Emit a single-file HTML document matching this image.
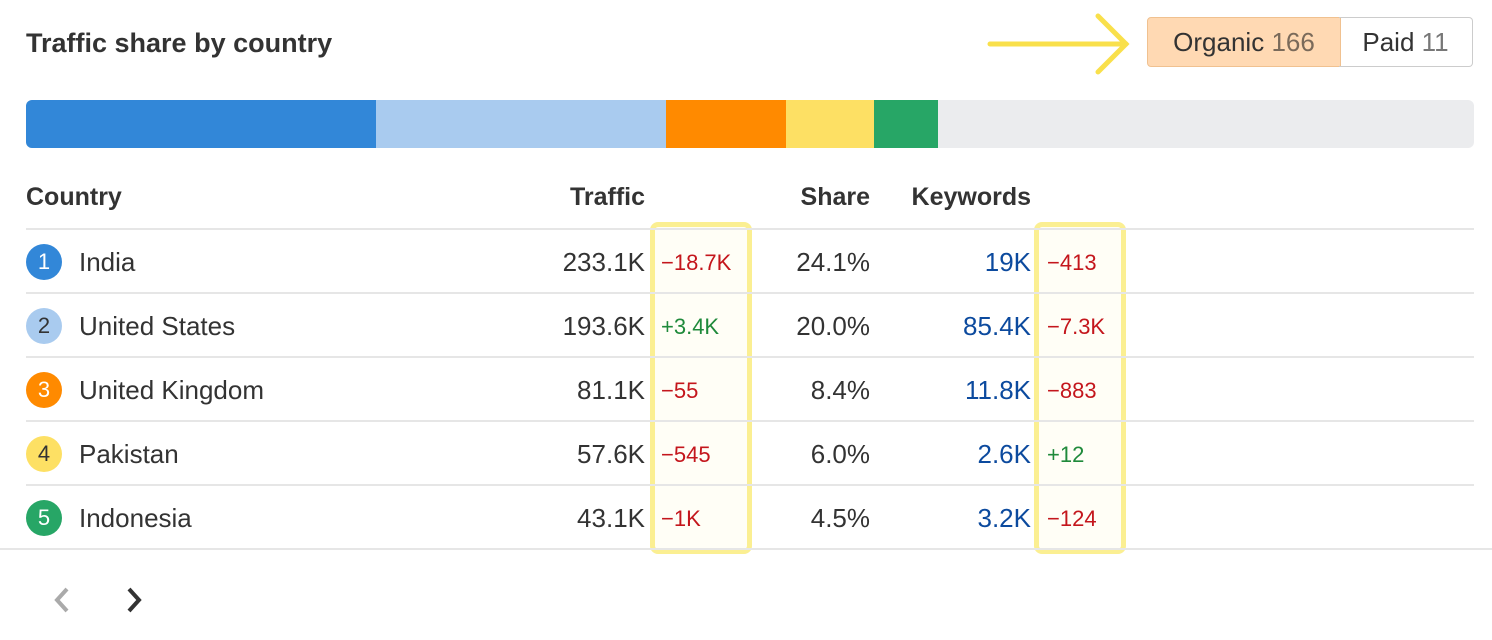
<!DOCTYPE html>
<html><head><meta charset="utf-8"><style>
body{margin:0;width:1492px;height:640px;background:#fff;font-family:"Liberation Sans",sans-serif;color:#333;position:relative;overflow:hidden}
.a{position:absolute;white-space:nowrap}
.t{font-size:26px;line-height:30px}
.r{text-align:right}
.c{font-size:22px;line-height:30px}
.h{font-size:25px;font-weight:bold;line-height:30px}
.red{color:#c4161c}.grn{color:#1f8a3b}.blu{color:#0c4a9e}
.line{position:absolute;left:26px;width:1448px;height:2px;background:#e6e6e6}
.circ{position:absolute;left:26px;width:36px;height:36px;border-radius:50%;color:#fff;font-size:22px;line-height:36px;text-align:center}
.ybox{position:absolute;top:222px;height:322px;border:5px solid #fbef92;border-radius:8px;background:rgba(255,252,230,0.35)}
</style></head><body>
<div class="a" style="left:26px;top:28px;font-size:27px;font-weight:bold;line-height:30px;color:#333">Traffic share by country</div>
<svg class="a" style="left:980px;top:10px" width="160" height="70"><g stroke="#f9e04b" stroke-width="5" stroke-linecap="round" fill="none"><line x1="10" y1="34" x2="146" y2="34"/><polyline points="118,6 146,34 118,62"/></g></svg>
<div class="a" style="left:1147px;top:17px;width:192px;height:48px;background:#ffd9b3;border:1px solid #f0c190;border-radius:4px 0 0 4px;font-size:26px;line-height:48px;text-align:center;color:#333">Organic <span style="color:#7a6a5a">166</span></div>
<div class="a" style="left:1339px;top:17px;width:133px;height:48px;border:1px solid #ccc;border-left:none;border-radius:0 4px 4px 0;font-size:26px;line-height:48px;text-align:center;color:#333">Paid <span style="color:#777">11</span></div>
<div class="a" style="left:26px;top:100px;width:1448px;height:48px;border-radius:6px;overflow:hidden;background:#ebecee">
<div class="a" style="left:0;top:0;width:350px;height:48px;background:#3287d8"></div>
<div class="a" style="left:350px;top:0;width:290px;height:48px;background:#a9cbef"></div>
<div class="a" style="left:640px;top:0;width:120px;height:48px;background:#ff8a00"></div>
<div class="a" style="left:760px;top:0;width:88px;height:48px;background:#fde064"></div>
<div class="a" style="left:848px;top:0;width:64px;height:48px;background:#27a666"></div>
</div>
<div class="a h" style="left:26px;top:182px">Country</div>
<div class="a r h" style="left:445px;width:200px;top:182px">Traffic</div>
<div class="a r h" style="left:670px;width:200px;top:182px">Share</div>
<div class="a r h" style="left:831px;width:200px;top:182px">Keywords</div>
<div class="ybox" style="left:650px;width:92px"></div>
<div class="ybox" style="left:1034px;width:82px"></div>
<div class="line" style="top:228px"></div>
<div class="line" style="top:292px"></div>
<div class="line" style="top:356px"></div>
<div class="line" style="top:420px"></div>
<div class="line" style="top:484px"></div>
<div class="line" style="top:548px;left:0;width:1492px"></div>

<div class="circ" style="top:244px;background:#3287d8">1</div>
<div class="circ" style="top:308px;background:#a9cbef;color:#333">2</div>
<div class="circ" style="top:372px;background:#ff8a00">3</div>
<div class="circ" style="top:436px;background:#fde064;color:#333">4</div>
<div class="circ" style="top:500px;background:#27a666">5</div>

<div class="a t" style="left:79px;top:247px">India</div>
<div class="a t" style="left:79px;top:311px">United States</div>
<div class="a t" style="left:79px;top:375px">United Kingdom</div>
<div class="a t" style="left:79px;top:439px">Pakistan</div>
<div class="a t" style="left:79px;top:503px">Indonesia</div>

<div class="a t r" style="left:445px;width:200px;top:247px">233.1K</div>
<div class="a t r" style="left:445px;width:200px;top:311px">193.6K</div>
<div class="a t r" style="left:445px;width:200px;top:375px">81.1K</div>
<div class="a t r" style="left:445px;width:200px;top:439px">57.6K</div>
<div class="a t r" style="left:445px;width:200px;top:503px">43.1K</div>

<div class="a c red" style="left:661px;top:248px">−18.7K</div>
<div class="a c grn" style="left:661px;top:312px">+3.4K</div>
<div class="a c red" style="left:661px;top:376px">−55</div>
<div class="a c red" style="left:661px;top:440px">−545</div>
<div class="a c red" style="left:661px;top:504px">−1K</div>

<div class="a t r" style="left:670px;width:200px;top:247px">24.1%</div>
<div class="a t r" style="left:670px;width:200px;top:311px">20.0%</div>
<div class="a t r" style="left:670px;width:200px;top:375px">8.4%</div>
<div class="a t r" style="left:670px;width:200px;top:439px">6.0%</div>
<div class="a t r" style="left:670px;width:200px;top:503px">4.5%</div>

<div class="a t r blu" style="left:831px;width:200px;top:247px">19K</div>
<div class="a t r blu" style="left:831px;width:200px;top:311px">85.4K</div>
<div class="a t r blu" style="left:831px;width:200px;top:375px">11.8K</div>
<div class="a t r blu" style="left:831px;width:200px;top:439px">2.6K</div>
<div class="a t r blu" style="left:831px;width:200px;top:503px">3.2K</div>

<div class="a c red" style="left:1047px;top:248px">−413</div>
<div class="a c red" style="left:1047px;top:312px">−7.3K</div>
<div class="a c red" style="left:1047px;top:376px">−883</div>
<div class="a c grn" style="left:1047px;top:440px">+12</div>
<div class="a c red" style="left:1047px;top:504px">−124</div>

<svg class="a" style="left:50px;top:585px" width="100" height="30"><polyline points="17,4 7,15 17,26" stroke="#aaa" stroke-width="4" fill="none"/><polyline points="79,4 89,15 79,26" stroke="#333" stroke-width="4" fill="none"/></svg>
</body></html>
